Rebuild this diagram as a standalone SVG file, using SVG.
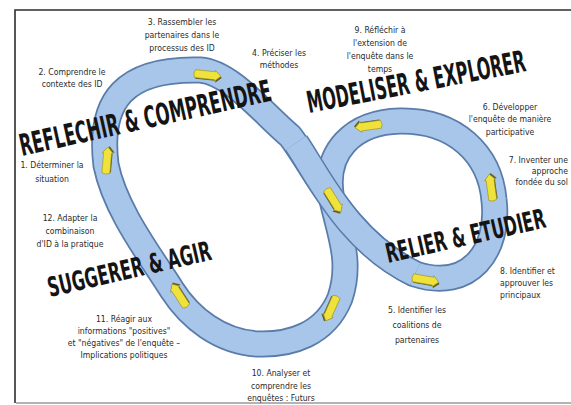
<svg xmlns="http://www.w3.org/2000/svg" width="571" height="405" viewBox="0 0 571 405">
<style>
.lbl{font-family:"Liberation Sans Narrow","DejaVu Sans Condensed","Liberation Sans",sans-serif;font-size:8.6px;fill:#2a2a2a;text-anchor:middle}
.big{font-family:"DejaVu Sans Condensed","Liberation Sans Narrow",sans-serif;font-weight:bold;font-size:30px;fill:#141414}
.rib-out{fill:none;stroke:#5a7caa;stroke-width:27;stroke-linecap:butt;stroke-linejoin:round}
.rib-in{fill:none;stroke:#a8c6ea;stroke-width:23.5;stroke-linecap:butt;stroke-linejoin:round}
</style>
<defs>
<g id="arr">
<path d="M-12,-2.5 L8,-2.5 L8,-4.5 L14,1.5 L8,7 L8,5 L-12,5 Q-14.5,1.2 -12,-2.5 Z" fill="#5e5f2e"/>
<path d="M-13,-4 L7,-4 L7,-5.5 L13,0 L7,5.5 L7,4 L-13,4 Q-15.5,0 -13,-4 Z" fill="#efe23a" stroke="#9a8a22" stroke-width="0.6"/>
</g>
</defs>
<rect x="0" y="0" width="571" height="405" fill="#ffffff"/>
<g id="frame" fill="none">
<path d="M571,10 H15 V403" stroke="#2e2e2e" stroke-width="1.6"/>
<path d="M16,403 H571" stroke="#9a9a9a" stroke-width="1.5"/>
</g>
<g id="connectors">
<path class="rib-out" d="M200,70 C230,72 262,112 290,136 C315,168 345,240 415,274 C470,292 500,250 494,200 C490,154 455,120 400,121 C355,122 322,150 332,200 C340,235 352,262 340,298 C325,335 290,345 258,344 C220,342 190,318 172,290 C150,255 115,210 106,165 C98,100 125,68 200,70 Z"/>
<path class="rib-in" d="M200,70 C230,72 262,112 290,136 C315,168 345,240 415,274 C470,292 500,250 494,200 C490,154 455,120 400,121 C355,122 322,150 332,200 C340,235 352,262 340,298 C325,335 290,345 258,344 C220,342 190,318 172,290 C150,255 115,210 106,165 C98,100 125,68 200,70 Z"/>
<path class="rib-out" d="M296,143 C318,175 348,242 415,274"/>
<path class="rib-in" d="M296,143 C318,175 348,242 415,274" style="stroke-width:24"/>
<use href="#arr" transform="translate(107,160) rotate(-85)"/>
<use href="#arr" transform="translate(208,75) rotate(6)"/>
<use href="#arr" transform="translate(334,201) rotate(58)"/>
<use href="#arr" transform="translate(426,280) rotate(10)"/>
<use href="#arr" transform="translate(491,187) rotate(-98)"/>
<use href="#arr" transform="translate(368,126) rotate(172)"/>
<use href="#arr" transform="translate(331,309) rotate(114)"/>
<use href="#arr" transform="translate(179,295) rotate(-123)"/>
</g>
<g id="stage-reflechir"><text class="big" textLength="257" lengthAdjust="spacingAndGlyphs" transform="translate(22,156) rotate(-12.5)">REFLECHIR &amp; COMPRENDRE</text></g>
<g id="stage-modeliser"><text class="big" textLength="222" lengthAdjust="spacingAndGlyphs" transform="translate(309,113) rotate(-10.9)">MODELISER &amp; EXPLORER</text></g>
<g id="stage-relier"><text class="big" style="font-size:27px" textLength="163" lengthAdjust="spacingAndGlyphs" transform="translate(388,263) rotate(-12.7)">RELIER &amp; ETUDIER</text></g>
<g id="stage-suggerer"><text class="big" style="font-size:27px" textLength="167" lengthAdjust="spacingAndGlyphs" transform="translate(50,297) rotate(-13)">SUGGERER &amp; AGIR</text></g>
<g id="step1"><text class="lbl" x="52" y="168">1. Déterminer la</text><text class="lbl" x="52" y="182">situation</text></g>
<g id="step2"><text class="lbl" x="72" y="75">2. Comprendre le</text><text class="lbl" x="72" y="87">contexte des ID</text></g>
<g id="step3"><text class="lbl" x="182" y="25">3. Rassembler les</text><text class="lbl" x="182" y="38">partenaires dans le</text><text class="lbl" x="182" y="51">processus des ID</text></g>
<g id="step4"><text class="lbl" x="279" y="56">4. Préciser les</text><text class="lbl" x="279" y="68">méthodes</text></g>
<g id="step5"><text class="lbl" x="417" y="313">5. Identifier les</text><text class="lbl" x="417" y="328">coalitions de</text><text class="lbl" x="417" y="343">partenaires</text></g>
<g id="step6"><text class="lbl" x="510" y="110">6. Développer</text><text class="lbl" x="510" y="122">l'enquête de manière</text><text class="lbl" x="510" y="135">participative</text></g>
<g id="step7"><text class="lbl" x="568" y="163" style="text-anchor:end">7. Inventer une</text><text class="lbl" x="568" y="174" style="text-anchor:end">approche</text><text class="lbl" x="568" y="185" style="text-anchor:end">fondée du sol</text></g>
<g id="step8"><text class="lbl" x="500" y="274" style="text-anchor:start">8. Identifier et</text><text class="lbl" x="500" y="286" style="text-anchor:start">approuver les</text><text class="lbl" x="500" y="298" style="text-anchor:start">principaux</text></g>
<g id="step9"><text class="lbl" x="380" y="33">9. Réfléchir à</text><text class="lbl" x="380" y="46">l'extension de</text><text class="lbl" x="380" y="59">l'enquête dans le</text><text class="lbl" x="380" y="72">temps</text></g>
<g id="step10"><text class="lbl" x="281" y="376">10. Analyser et</text><text class="lbl" x="281" y="389">comprendre les</text><text class="lbl" x="281" y="401">enquêtes : Futurs</text></g>
<g id="step11"><text class="lbl" x="124" y="322">11. Réagir aux</text><text class="lbl" x="124" y="334">informations "positives"</text><text class="lbl" x="124" y="346">et "négatives" de l'enquête –</text><text class="lbl" x="124" y="358">Implications politiques</text></g>
<g id="step12"><text class="lbl" x="70" y="221">12. Adapter la</text><text class="lbl" x="70" y="234">combinaison</text><text class="lbl" x="70" y="247">d'ID à la pratique</text></g>
</svg>
